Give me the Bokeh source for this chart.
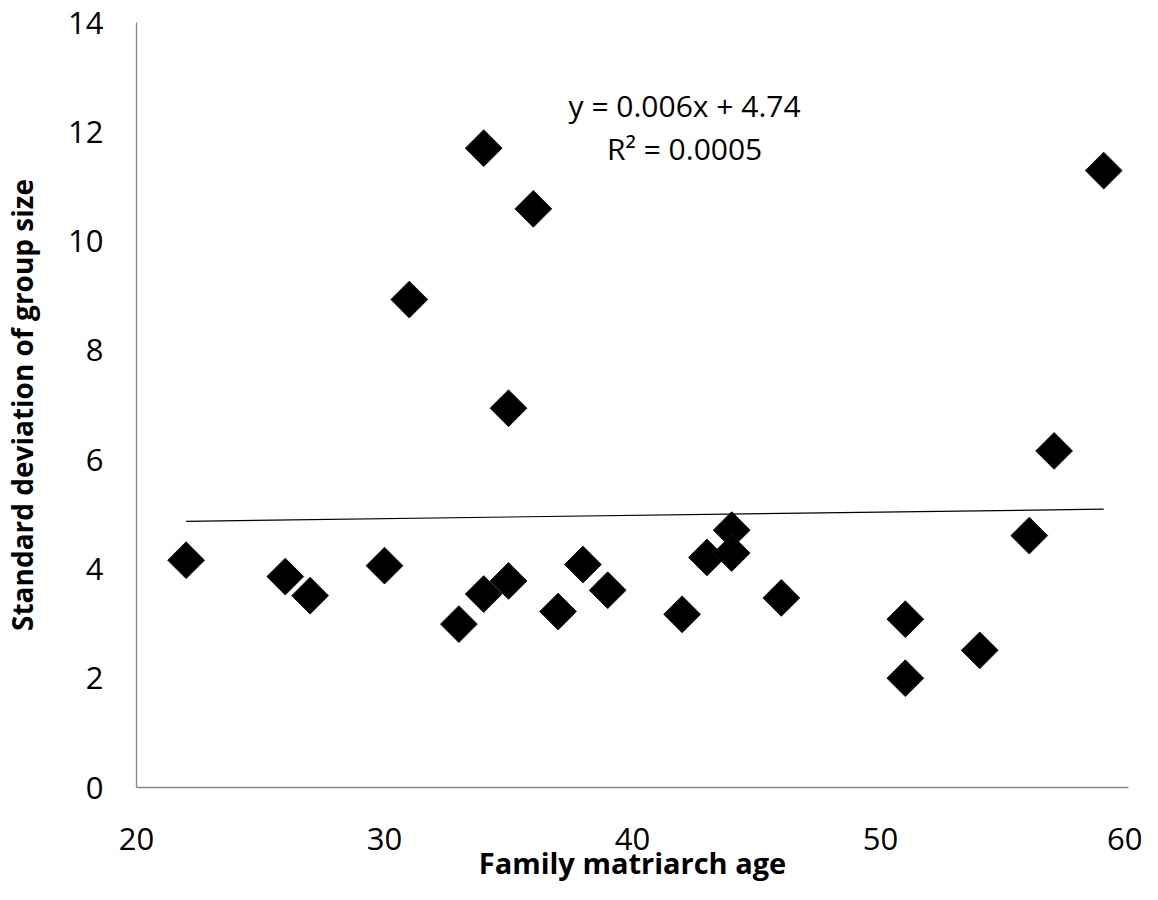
import numpy as np
from bokeh.plotting import figure
from bokeh.models import Range1d, FixedTicker, Label
from bokeh.embed import file_html
from bokeh.resources import INLINE

# Data
age = [22, 26, 27, 30, 31, 33, 34, 34, 35, 35, 36, 37, 38, 39, 42, 43, 44, 44, 46, 51, 51, 54, 56, 57, 59]
sd_group = [4.16, 3.86, 3.51, 4.06, 8.93, 2.99, 11.70, 3.54, 6.94, 3.78, 10.59, 3.22, 4.08, 3.61,
            3.17, 4.21, 4.71, 4.29, 3.47, 3.08, 2.00, 2.51, 4.61, 6.16, 11.29]
slope = 0.006
intercept = 4.74
r_squared = 0.0005
x_ticks = [20, 30, 40, 50, 60]
y_ticks = [0, 2, 4, 6, 8, 10, 12, 14]
x_title = "Family matriarch age"
y_title = "Standard deviation of group size"

FONT = "Open Sans"

p = figure(width=1142, height=884, output_backend="svg", toolbar_location=None,
           x_range=Range1d(20, 60), y_range=Range1d(0, 14),
           min_border_left=132, min_border_right=14, min_border_top=22, min_border_bottom=97)
p.background_fill_color = "white"
p.border_fill_color = "white"
p.outline_line_color = None
p.xgrid.visible = False
p.ygrid.visible = False

for ax in (p.xaxis, p.yaxis):
    ax.axis_line_color = "#868686"
    ax.axis_line_width = 1.3
    ax.major_tick_out = 0
    ax.major_tick_in = 0
    ax.minor_tick_out = 0
    ax.minor_tick_in = 0
    ax.major_label_text_font = FONT
    ax.major_label_text_font_size = "31px"
    ax.major_label_text_color = "black"
    ax.axis_label_text_font = FONT
    ax.axis_label_text_font_style = "bold"
    ax.axis_label_text_color = "black"

p.xaxis.ticker = FixedTicker(ticks=x_ticks)
p.yaxis.ticker = FixedTicker(ticks=y_ticks)
p.xaxis.major_label_standoff = 40
p.yaxis.major_label_standoff = 33

p.xaxis.axis_label = x_title
p.xaxis.axis_label_text_font_size = "29px"
p.xaxis.axis_label_standoff = -10
p.yaxis.axis_label = y_title
p.yaxis.axis_label_text_font_size = "28px"
p.yaxis.axis_label_standoff = 24

# trend line
x0, x1 = min(age), max(age)
p.line([x0, x1], [slope * x0 + intercept, slope * x1 + intercept], line_color="black", line_width=1.2)

# data points (rotated squares = diamonds)
p.scatter(age, sd_group, marker="square", angle=np.pi / 4, size=26,
          fill_color="black", line_color="#1a0f26", line_width=1)

# equation labels
p.add_layout(Label(x=42.1, y=12.48, text=f"y = {slope}x + {intercept}", text_font=FONT,
                   text_font_size="30px", text_align="center", text_baseline="middle", text_color="black"))
p.add_layout(Label(x=42.1, y=11.69, text=f"R\u00b2 = {r_squared}", text_font=FONT,
                   text_font_size="30px", text_align="center", text_baseline="middle", text_color="black"))

open("out.html", "w").write(file_html(p, INLINE))
